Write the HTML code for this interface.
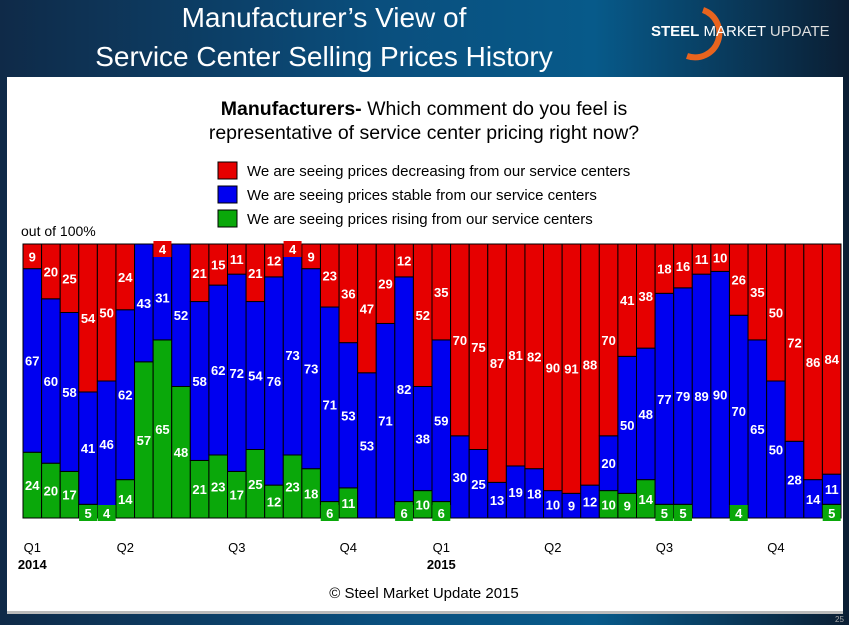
<!DOCTYPE html>
<html><head><meta charset="utf-8">
<style>
body{margin:0;width:849px;height:625px;overflow:hidden;font-family:"Liberation Sans",sans-serif;}
#bg{position:absolute;left:0;top:0;width:849px;height:625px;background:linear-gradient(90deg,#0f2a48 0%,#0a4f7e 45%,#075a8a 70%,#0b1e33 100%);}
#panel{position:absolute;left:7px;top:77px;width:836px;height:534px;background:#fff;border-bottom:3px solid #bbb;}
.title{position:absolute;left:0;width:648px;text-align:center;color:#fff;font-size:28px;}
</style></head><body>
<div id="bg"></div>
<div class="title" style="top:2px">Manufacturer’s View of</div>
<div class="title" style="top:41px">Service Center Selling Prices History</div>
<div style="position:absolute;left:651px;top:23px;color:#fff;font-size:15px;white-space:nowrap">
<svg width="60" height="60" style="position:absolute;left:22px;top:-19px"><path d="M30 6 A24 24 0 1 1 14 52" fill="none" stroke="#e8641e" stroke-width="6"/></svg>
<span style="position:relative;font-weight:bold">STEEL</span> <span style="position:relative">MARKET</span> <span style="position:relative;color:#ddd">UPDATE</span></div>
<div id="panel"></div>
<svg id="chart" width="849" height="625" style="position:absolute;left:0;top:0"></svg>
<div style="position:absolute;left:835px;top:615px;color:#aaa;font-size:8px">25</div>
<script>
const periods=["Q1 2014","","","","","Q2","","","","","","Q3","","","","","","Q4","","","","","Q1 2015","","","","","","","","","","","","","","","","","","","","",""];
const decreasing=[9,20,25,54,50,24,0,4,0,21,15,11,21,12,4,9,23,36,47,29,12,52,35,70,75,87,81,82,90,91,88,70,41,38,18,16,11,10,26,35,50,72,86,84];
const stable=[67,60,58,41,46,62,43,31,52,58,62,72,54,76,73,73,71,53,53,71,82,38,59,30,25,13,19,18,10,9,12,20,50,48,77,79,89,90,70,65,50,28,14,11];
const rising=[24,20,17,5,4,14,57,65,48,21,23,17,25,12,23,18,6,11,0,0,6,10,6,0,0,0,0,0,0,0,0,10,9,14,5,5,0,0,4,0,0,0,0,5];
const quarterLabels=[["Q1",0],["Q2",5],["Q3",11],["Q4",17],["Q1",22],["Q2",28],["Q3",34],["Q4",40]];
const yearLabels=[["2014",0],["2015",22]];
const NS="http://www.w3.org/2000/svg";
const svg=document.getElementById('chart');
const X0=23,X1=841,Y0=518,Y1=244,n=decreasing.length,bw=(X1-X0)/n;
const xs=i=>X0+i*bw;
const ys=v=>Y0-(v/100)*(Y0-Y1);
function mk(t,a){const e=document.createElementNS(NS,t);for(const k in a)e.setAttribute(k,a[k]);svg.appendChild(e);return e;}
function txt(x,y,s,o){const e=mk('text',Object.assign({x:x,y:y,'font-family':'Liberation Sans, sans-serif'},o||{}));e.textContent=s;return e;}
let t=txt(424,115,'',{'text-anchor':'middle','font-size':19.5,fill:'#000'});

t.innerHTML='<tspan font-weight="bold">Manufacturers-</tspan> Which comment do you feel is';
t=txt(424,139,'representative of service center pricing right now?',{'text-anchor':'middle','font-size':19.5,fill:'#000'});

const legend=[["#e60000","We are seeing prices decreasing from our service centers"],["#0000f0","We are seeing prices stable from our service centers"],["#0aa80a","We are seeing prices rising from our service centers"]];
legend.forEach((l,i)=>{const y=162+i*24;
 const r=mk('rect',{x:218,y:y,width:19,height:17,fill:l[0],stroke:'#000','stroke-width':1});
 
 const tt=txt(247,y+14,l[1],{'font-size':15,fill:'#000'});
 });
t=txt(21,236,'out of 100%',{'font-size':14,fill:'#000'});

const series=[[rising,'#0aa80a'],[stable,'#0000f0'],[decreasing,'#e60000']];
const labels=[];
for(let i=0;i<n;i++){let base=0;
 series.forEach((s,si)=>{const v=s[0][i];if(v<=0)return;
  const r=mk('rect',{x:xs(i),y:ys(base+v),width:bw,height:ys(base)-ys(base+v),fill:s[1],stroke:'#000','stroke-width':1});
  
  labels.push([i,base,v,s[1]]);base+=v;});}
labels.forEach(([i,base,v,c])=>{const cx=xs(i)+bw/2;let cy=(ys(base)+ys(base+v))/2;
 if(v<8){const by=base===0?Y0-13:Y1-3;
  const r=mk('rect',{x:cx-9,y:by,width:18,height:16,fill:c});
  cy=by+8;}
 const tt=txt(cx,cy+5,String(v),{'text-anchor':'middle','font-size':13,'font-weight':'bold',fill:'#fff'});
 });
quarterLabels.forEach(q=>{const tt=txt(xs(q[1])+bw/2,552,q[0],{'text-anchor':'middle','font-size':13,fill:'#000'});
 });
yearLabels.forEach(q=>{const tt=txt(xs(q[1])+bw/2,569,q[0],{'text-anchor':'middle','font-size':13,'font-weight':'bold',fill:'#000'});
 });
t=txt(424,598,'© Steel Market Update 2015',{'text-anchor':'middle','font-size':15,fill:'#000'});

</script>
</body></html>
